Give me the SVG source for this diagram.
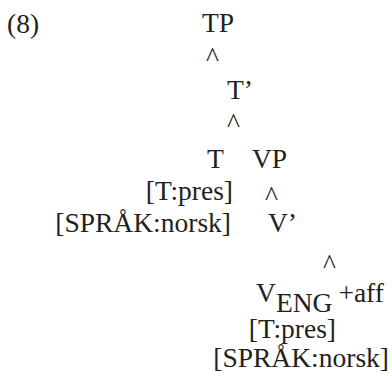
<svg xmlns="http://www.w3.org/2000/svg" width="392" height="376" viewBox="0 0 392 376">
<style>
.t{font-family:'Liberation Serif','Times New Roman',Times,serif;font-size:27.5px;fill:#231f20}
</style>
<rect width="392" height="376" fill="#fff"/>
<g class="t" font-family="Liberation Serif, Times New Roman, serif">
<g id="label"><text x="7" y="33">(8)</text></g>
<g id="connectors">
<text x="206" y="66">^</text>
<text x="227" y="132">^</text>
<text x="265" y="205">^</text>
<text x="323" y="273">^</text>
</g>
<g id="TP"><text x="202" y="32">TP</text></g>
<g id="Tbar"><text x="227" y="99">T’</text></g>
<g id="T"><text x="207" y="168">T</text><text x="233" y="200" text-anchor="end">[T:pres]</text><text x="231" y="232" text-anchor="end">[SPRÅK:norsk]</text></g>
<g id="VP"><text x="252" y="168">VP</text></g>
<g id="Vbar"><text x="268" y="232">V’</text></g>
<g id="V"><text x="256" y="302">V<tspan dy="10">ENG</tspan><tspan dy="-10" dx="6">+aff</tspan></text><text x="336" y="338" text-anchor="end">[T:pres]</text><text x="389" y="367" text-anchor="end">[SPRÅK:norsk]</text></g>
</g>
</svg>
